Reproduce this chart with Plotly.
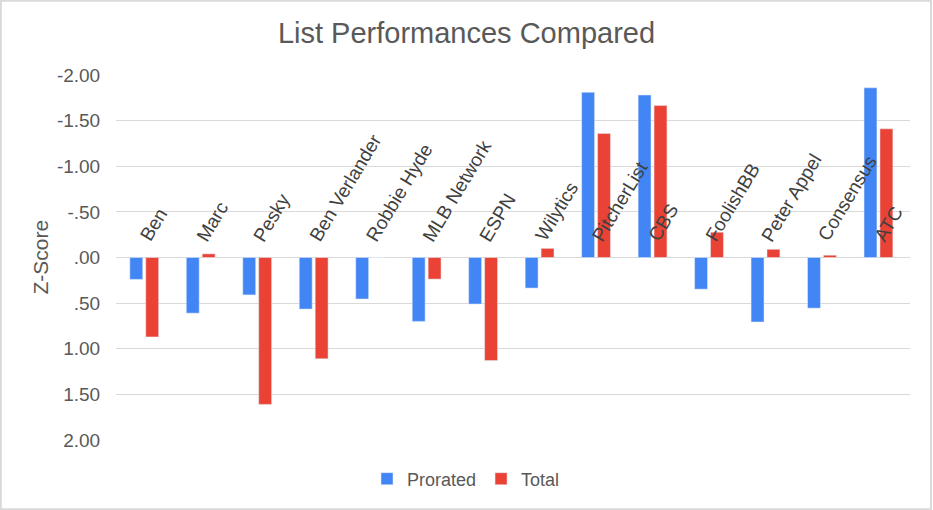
import plotly.graph_objects as go

categories = ["Ben", "Marc", "Pesky", "Ben Verlander", "Robbie Hyde", "MLB Network", "ESPN",
              "Wilytics", "PitcherList", "CBS", "FoolishBB", "Peter Appel", "Consensus", "ATC"]
prorated = [0.24, 0.61, 0.41, 0.565, 0.455, 0.70, 0.51, 0.335, -1.81, -1.78, 0.347, 0.707, 0.555, -1.86]
total = [0.87, -0.04, 1.61, 1.11, 0.0, 0.237, 1.13, -0.10, -1.36, -1.665, -0.277, -0.09, -0.025, -1.41]
tick_vals = [-2.0, -1.5, -1.0, -0.5, 0.0, 0.5, 1.0, 1.5, 2.0]
tick_text = ["-2.00", "-1.50", "-1.00", "-.50", ".00", ".50", "1.00", "1.50", "2.00"]

W, H = 933, 510
ML, MR, MT, MB = 116, 23, 75, 70
PW, PH = W - ML - MR, H - MT - MB

FONT = "Liberation Sans, Arial, sans-serif"

fig = go.Figure()
fig.add_trace(go.Bar(name="Prorated", x=categories, y=prorated, marker_color="#4285F4"))
fig.add_trace(go.Bar(name="Total", x=categories, y=total, marker_color="#EA4335"))

annotations = []
for c in categories:
    annotations.append(dict(x=c, y=0, xref="x", yref="y", text=c, showarrow=False,
                            textangle=-59, xanchor="left", yanchor="bottom",
                            xshift=-11, yshift=10,
                            font=dict(family=FONT, size=19, color="#404040")))
annotations.append(dict(x=(40 - ML) / PW, y=0.5, xref="paper", yref="paper", text="Z-Score",
                        showarrow=False, textangle=-90, xanchor="center", yanchor="middle",
                        font=dict(family=FONT, size=21, color="#595959")))

fig.update_layout(
    width=W, height=H,
    margin=dict(l=ML, r=MR, t=MT, b=MB, pad=0),
    paper_bgcolor="white", plot_bgcolor="white",
    barmode="group", bargap=0.436, bargroupgap=0.19,
    title=dict(text="List Performances Compared", x=0.5, xref="container", xanchor="center",
               y=1 - 33 / H, yref="container", yanchor="middle",
               font=dict(family=FONT, size=29, color="#595959")),
    font=dict(family=FONT, color="#595959"),
    xaxis=dict(showticklabels=False, showgrid=False, zeroline=False, showline=False, ticks=""),
    yaxis=dict(range=[2.0, -2.0], tickvals=tick_vals, ticktext=tick_text,
               showgrid=True, gridcolor="#d9d9d9", gridwidth=1,
               zeroline=True, zerolinecolor="#d9d9d9", zerolinewidth=1,
               showline=False, ticks="outside", ticklen=11, tickcolor="rgba(0,0,0,0)",
               tickfont=dict(family=FONT, size=19, color="#595959")),
    legend=dict(orientation="h", x=(466 - ML) / PW, xanchor="center",
                y=-39 / PH, yanchor="middle", font=dict(family=FONT, size=18, color="#595959"),
                itemwidth=30, traceorder="normal"),
    annotations=annotations,
    shapes=[dict(type="rect", xref="paper", yref="paper",
                 x0=-ML / PW + 0.001, x1=1 + (MR - 2) / PW,
                 y0=-MB / PH + 0.002, y1=1 + MT / PH - 0.002,
                 line=dict(color="#d9d9d9", width=2), layer="below")],
)

fig.write_html("out.html", config={"displayModeBar": False},
               post_script="document.body.style.margin='0';")
